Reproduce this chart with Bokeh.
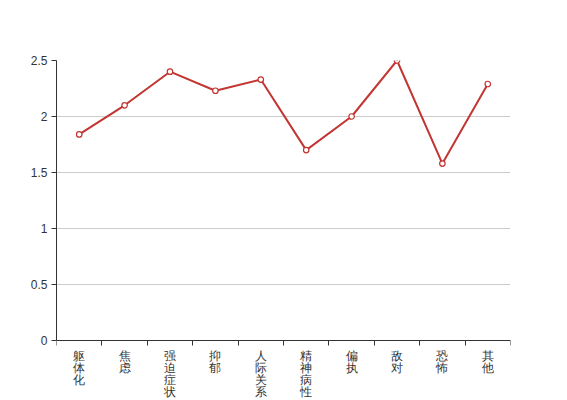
from bokeh.plotting import figure
from bokeh.models import ColumnDataSource, FixedTicker, LabelSet, Range1d
from bokeh.embed import file_html
from bokeh.resources import INLINE

categories = ["躯体化", "焦虑", "强迫症状", "抑郁", "人际关系敏感", "精神病性", "偏执", "敌对", "恐怖", "其他"]
values = [1.84, 2.1, 2.4, 2.23, 2.33, 1.7, 2.0, 2.5, 1.58, 2.29]
y_ticks = [0, 0.5, 1, 1.5, 2, 2.5]

n = len(categories)
xs = [i + 0.5 for i in range(n)]

W, H = 560, 398
TOP, ZERO_Y, RIGHT = 60, 340, 510          # pixel layout of the plotting area
px_per_unit = (ZERO_Y - TOP) / max(y_ticks)
y_bottom = -(H - ZERO_Y) / px_per_unit     # extend frame to canvas bottom for labels

p = figure(width=W, height=H, output_backend="svg", toolbar_location=None,
           x_range=Range1d(0, n), y_range=Range1d(y_bottom, max(y_ticks)),
           min_border_left=56, min_border_right=W - RIGHT, min_border_top=TOP,
           min_border_bottom=0)
p.outline_line_color = None
p.background_fill_color = "white"
p.border_fill_color = "white"

src = ColumnDataSource(dict(x=xs, y=values, label=["\n".join(c) for c in categories]))
p.line("x", "y", source=src, line_color="#c23531", line_width=2)
p.scatter("x", "y", source=src, size=5.5, fill_color="white", line_color="#c23531", line_width=1.2)

# y axis
p.yaxis.ticker = FixedTicker(ticks=y_ticks)
p.yaxis.bounds = (0, max(y_ticks))
p.yaxis.major_label_overrides = {t: ("%g" % t) for t in y_ticks}
p.yaxis.axis_line_color = "#333333"
p.yaxis.major_tick_line_color = "#333333"
p.yaxis.major_tick_in = 0
p.yaxis.major_tick_out = 5
p.yaxis.minor_tick_line_color = None
p.yaxis.major_label_text_font = "Liberation Sans"
p.yaxis.major_label_text_font_size = "12px"
p.yaxis.major_label_text_color = "#333333"
p.yaxis.major_label_standoff = 4

# x axis at y = 0 with boundary ticks; labels drawn by LabelSet
p.xaxis.fixed_location = 0
p.xaxis.ticker = FixedTicker(ticks=list(range(n + 1)))
p.xaxis.major_label_overrides = {i: "" for i in range(n + 1)}
p.xaxis.major_label_standoff = 0
p.xaxis.axis_line_color = "#333333"
p.xaxis.major_tick_line_color = "#333333"
p.xaxis.major_tick_in = 0
p.xaxis.major_tick_out = 5
p.xaxis.minor_tick_line_color = None

p.xgrid.grid_line_color = None
p.ygrid.grid_line_color = "#cccccc"
p.ygrid.ticker = FixedTicker(ticks=y_ticks)

labels = LabelSet(x="x", y=H - 348, y_units="screen", text="label", source=src,
                  text_align="center", text_baseline="top",
                  text_font="Noto Sans CJK SC", text_font_size="12px",
                  text_color="#333333", text_line_height=0.86)
p.add_layout(labels)

open("out.html", "w").write(file_html(p, INLINE))
